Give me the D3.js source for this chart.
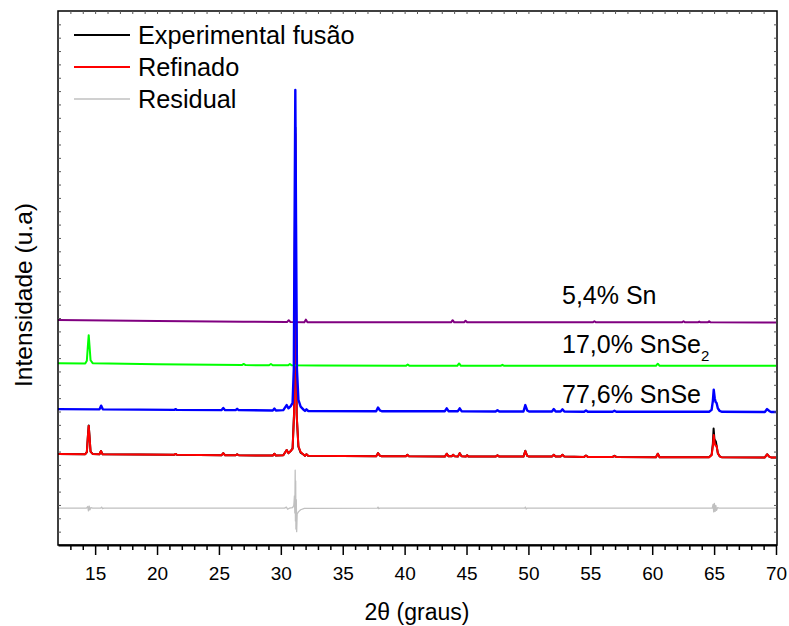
<!DOCTYPE html>
<html>
<head>
<meta charset="utf-8">
<script src="https://cdn.jsdelivr.net/npm/d3@7/dist/d3.min.js"></script>
<style>
  html, body { margin: 0; padding: 0; background: #fff; }
  svg { display: block; }
  text { font-family: "Liberation Sans", Arial, sans-serif; fill: #000; }
</style>
</head>
<body>
<svg id="chart" width="789" height="626"></svg>
<script>
// X-ray diffraction patterns, 2θ in degrees vs. intensity (arbitrary units, offset per trace)
const xTicks = [15, 20, 25, 30, 35, 40, 45, 50, 55, 60, 65, 70];

// Experimental pattern (melted sample)
const experimental = [
  [12, 170.5], [14.2, 170], [14.33, 174], [14.42, 206], [14.48, 224], [14.54, 206], [14.63, 175], [14.8, 170.5],
  [15.35, 170], [15.47, 176], [15.6, 170], [21.4, 169], [21.5, 170.5], [21.6, 169],
  [25.2, 168], [25.35, 172], [25.5, 168], [26.35, 168], [26.47, 170], [26.6, 168],
  [29.35, 167.5], [29.48, 171], [29.6, 167.5],
  [30.2, 168], [30.47, 178], [30.62, 172], [30.8, 176], [30.95, 181], [31.07, 248], [31.13, 520], [31.17, 782], [31.21, 520], [31.28, 243], [31.42, 184], [31.6, 173], [31.85, 169],
  [31.95, 167], [32.07, 170], [32.2, 167],
  [37.7, 166], [37.85, 172], [38.0, 167.5], [38.15, 166], [40.1, 166], [40.22, 169], [40.35, 166],
  [43.25, 165.5], [43.4, 171], [43.55, 166], [43.8, 166], [43.92, 169], [44.05, 166], [44.3, 165.5], [44.45, 172], [44.6, 166],
  [44.95, 165.5], [45.05, 168], [45.15, 165.5], [47.35, 165.5], [47.5, 168], [47.65, 165.5],
  [49.6, 165.5], [49.75, 176.5], [49.9, 167], [50.05, 165.5],
  [51.9, 165.5], [52.05, 169], [52.2, 165.5], [52.6, 165.5], [52.75, 169], [52.9, 165.5],
  [54.5, 165], [54.65, 167.5], [54.8, 165], [56.8, 165], [56.95, 167], [57.1, 165],
  [60.3, 164.5], [60.45, 171], [60.6, 164.5],
  [64.6, 164.5], [64.8, 169], [64.9, 190], [64.96, 218], [65.02, 200], [65.08, 195], [65.14, 194], [65.2, 186], [65.3, 172], [65.45, 166], [65.6, 164.5],
  [69.1, 164], [69.28, 170], [69.45, 165.5], [69.6, 164], [70, 164]
];

// Refined (calculated) pattern
const refined = [
  [12, 170.5], [14.2, 170], [14.33, 174], [14.42, 205], [14.48, 223], [14.54, 205], [14.63, 175], [14.8, 170.5],
  [15.35, 170], [15.47, 176], [15.6, 170], [21.4, 169], [21.5, 170.5], [21.6, 169],
  [25.2, 168], [25.35, 172], [25.5, 168], [26.35, 168], [26.47, 170], [26.6, 168],
  [29.35, 167.5], [29.48, 171], [29.6, 167.5],
  [30.2, 168], [30.47, 178], [30.62, 172], [30.8, 176], [30.95, 180], [31.07, 245], [31.13, 515], [31.17, 770], [31.21, 515], [31.28, 245], [31.42, 185], [31.6, 174], [31.85, 169],
  [31.95, 167], [32.07, 170], [32.2, 167],
  [37.7, 166], [37.85, 172], [38.0, 167.5], [38.15, 166], [40.1, 166], [40.22, 169], [40.35, 166],
  [43.25, 165.5], [43.4, 171], [43.55, 166], [43.8, 166], [43.92, 169], [44.05, 166], [44.3, 165.5], [44.45, 172], [44.6, 166],
  [44.95, 165.5], [45.05, 168], [45.15, 165.5], [47.35, 165.5], [47.5, 168], [47.65, 165.5],
  [49.6, 165.5], [49.75, 176], [49.9, 167], [50.05, 165.5],
  [51.9, 165.5], [52.05, 169], [52.2, 165.5], [52.6, 165.5], [52.75, 169], [52.9, 165.5],
  [54.5, 165], [54.65, 167.5], [54.8, 165], [56.8, 165], [56.95, 167], [57.1, 165],
  [60.3, 164.5], [60.45, 171], [60.6, 164.5],
  [64.6, 164.5], [64.8, 168], [64.9, 185], [64.97, 206], [65.05, 190], [65.12, 186], [65.2, 186], [65.3, 172], [65.45, 166], [65.6, 164.5],
  [69.1, 164], [69.28, 170], [69.45, 165.5], [69.6, 164], [70, 164]
];

// Difference between experimental and refined
const residual = [
  [12, 69], [14.3, 69], [14.4, 72], [14.46, 64], [14.52, 73], [14.58, 66], [14.66, 70], [14.8, 69],
  [15.45, 69], [15.52, 71], [15.6, 68], [15.7, 69],
  [30.3, 69], [30.45, 71], [30.55, 67], [30.7, 69], [30.95, 70], [31.05, 74], [31.1, 92], [31.13, 60],
  [31.16, 140], [31.18, 45], [31.2, 120], [31.22, 30], [31.25, 85], [31.28, 25], [31.32, 58], [31.42, 62], [31.6, 66], [31.9, 68.5],
  [37.8, 69], [37.85, 71], [37.9, 68], [38, 69], [49.7, 69], [49.76, 71], [49.82, 67.5], [49.9, 69],
  [64.85, 69], [64.92, 76], [64.97, 62], [65.02, 78], [65.08, 63], [65.14, 74], [65.2, 65], [65.28, 70], [65.4, 69], [70, 69]
];

// Calculated phase contributions
const phaseSnSe = [
  [12, 254.5], [15.35, 254], [15.48, 261], [15.62, 254], [21.4, 253], [21.5, 254.5], [21.6, 253],
  [25.2, 252.5], [25.35, 256.5], [25.5, 252.5], [26.35, 252.5], [26.47, 255], [26.6, 252.5],
  [29.35, 252], [29.48, 255.5], [29.6, 252],
  [30.2, 252.5], [30.47, 262], [30.62, 256], [30.8, 260], [30.95, 266], [31.05, 330], [31.11, 600], [31.17, 852], [31.23, 600], [31.3, 330], [31.42, 272], [31.6, 259], [31.85, 253],
  [31.95, 251], [32.07, 254], [32.2, 251],
  [37.7, 250.5], [37.85, 257.5], [38.0, 252], [38.15, 250.5],
  [43.25, 250.5], [43.4, 256], [43.55, 250.5], [44.3, 250.5], [44.45, 256], [44.6, 250.5],
  [47.35, 250], [47.5, 252.5], [47.65, 250], [49.6, 250], [49.75, 262], [49.9, 252], [50.05, 250],
  [51.9, 250], [52.05, 254.5], [52.2, 250], [52.6, 250], [52.75, 254], [52.9, 250],
  [54.5, 249.5], [54.65, 252], [54.8, 249.5], [56.8, 249.5], [56.95, 251.5], [57.1, 249.5],
  [64.6, 249.5], [64.8, 253], [64.9, 270], [64.97, 291], [65.05, 275], [65.12, 268], [65.2, 266], [65.3, 256], [65.45, 251], [65.6, 249.5],
  [69.1, 249], [69.28, 254.5], [69.45, 251], [69.6, 249], [70, 249]
];

const phaseSnSe2 = [
  [12, 340.5], [14.2, 340], [14.33, 345], [14.42, 375], [14.48, 393], [14.54, 375], [14.63, 346], [14.8, 340.5],
  [20, 338.5], [26.85, 337], [27.0, 339], [27.15, 337], [29.05, 336.5], [29.2, 339], [29.35, 336.5],
  [30.6, 336.5], [30.73, 339], [30.86, 336.5], [33, 336], [40.1, 335.5], [40.25, 338], [40.4, 335.5],
  [44.25, 335.5], [44.4, 340], [44.55, 335.5], [47.75, 335.5], [47.9, 337.5], [48.05, 335.5],
  [60.3, 335.5], [60.45, 339.5], [60.6, 335.5], [70, 335.8]
];

const phaseSn = [
  [12, 421.5], [20, 419.5], [27, 418], [30.5, 417.5], [30.64, 421], [30.78, 417.5],
  [31.9, 417.2], [32.02, 422], [32.15, 417.2], [43.75, 417], [43.88, 421], [44.01, 417],
  [44.8, 417], [44.92, 420], [45.05, 417], [55.2, 417], [55.33, 419], [55.46, 417],
  [62.4, 417], [62.53, 419], [62.66, 417], [63.7, 417], [63.8, 418.5], [63.9, 417],
  [64.5, 417], [64.6, 419], [64.7, 417], [70, 416.8]
];

const legendLabels = ["Experimental fusão", "Refinado", "Residual"];
const legendColors = ["#000000", "#ff0000", "#d0d0d0"];
const phaseLabels = ["5,4% Sn", "17,0% SnSe", "77,6% SnSe"];

const svg = d3.select("#chart");
const margin = { left: 58, right: 777, top: 11, bottom: 545 };

const x = d3.scaleLinear().domain([12, 70]).range([margin.left, 776]);
const y = d3.scaleLinear().domain([0, 1000]).range([margin.bottom, margin.top]);

const line = d3.line().x(d => x(d[0])).y(d => y(d[1]));

// Drawing order: residual at the back, SnSe phase on top
const traces = [
  { data: residual, color: "#c0c0c0", width: 1.3 },
  { data: experimental, color: "#000000", width: 2 },
  { data: refined, color: "#ff0000", width: 2 },
  { data: phaseSn, color: "#800080", width: 2 },
  { data: phaseSnSe2, color: "#00ff00", width: 2 },
  { data: phaseSnSe, color: "#0000ff", width: 2.4 }
];

svg.append("g").selectAll("path").data(traces).join("path")
  .attr("fill", "none")
  .attr("stroke", d => d.color)
  .attr("stroke-width", d => d.width)
  .attr("stroke-linejoin", "round")
  .attr("d", d => line(d.data));

// Frame
svg.append("rect")
  .attr("x", margin.left).attr("y", margin.top)
  .attr("width", margin.right - margin.left).attr("height", margin.bottom - margin.top)
  .attr("fill", "none").attr("stroke", "#000").attr("stroke-width", 1.5);

const minor = d3.range(13, 70).filter(v => v % 5 !== 0);

// Bottom axis: major ticks with labels, minor ticks
const gx = svg.append("g").attr("transform", `translate(0,${margin.bottom})`)
  .call(d3.axisBottom(x).tickValues(xTicks).tickSizeInner(10).tickSizeOuter(0).tickFormat(d3.format("d")));
gx.select(".domain").attr("stroke-width", 2);
gx.selectAll(".tick line").attr("stroke-width", 1.5);
gx.selectAll(".tick text")
  .attr("y", 35).attr("dy", null)
  .style("font-size", "19px")
  .style("font-family", "'Liberation Sans', Arial, sans-serif");

svg.append("g").attr("transform", `translate(0,${margin.bottom})`)
  .call(d3.axisBottom(x).tickValues(minor).tickSizeInner(5).tickSizeOuter(0).tickFormat(""))
  .call(g => g.select(".domain").remove())
  .selectAll(".tick line").attr("stroke-width", 1.5);

// Inward ticks on top, left and right edges
svg.append("g").attr("transform", `translate(0,${margin.top})`)
  .call(d3.axisTop(x).tickValues(d3.range(13, 70)).tickSizeInner(-3).tickSizeOuter(0).tickFormat(""))
  .call(g => g.select(".domain").remove())
  .selectAll(".tick line").attr("stroke", "#555");

const yMinor = d3.range(25, 1000, 25);
svg.append("g").attr("transform", `translate(${margin.left},0)`)
  .call(d3.axisLeft(y).tickValues(yMinor).tickSizeInner(-3).tickSizeOuter(0).tickFormat(""))
  .call(g => g.select(".domain").remove())
  .selectAll(".tick line").attr("stroke", "#555");
svg.append("g").attr("transform", `translate(${margin.right},0)`)
  .call(d3.axisRight(y).tickValues(yMinor).tickSizeInner(-3).tickSizeOuter(0).tickFormat(""))
  .call(g => g.select(".domain").remove())
  .selectAll(".tick line").attr("stroke", "#555");

// Axis titles
svg.append("text")
  .attr("x", (margin.left + 776) / 2).attr("y", 620)
  .attr("text-anchor", "middle").style("font-size", "23px")
  .text("2θ (graus)");

svg.append("text")
  .attr("transform", "translate(32,295) rotate(-90)")
  .attr("text-anchor", "middle").style("font-size", "24.5px")
  .text("Intensidade (u.a)");

// Legend
const legend = svg.append("g");
const rows = legend.selectAll("g").data(legendLabels).join("g")
  .attr("transform", (d, i) => `translate(0,${35 + i * 32})`);
rows.append("line")
  .attr("x1", 74).attr("x2", 130)
  .attr("stroke", (d, i) => legendColors[i]).attr("stroke-width", 2);
rows.append("text")
  .attr("x", 138).attr("y", 9)
  .style("font-size", "25.3px")
  .text(d => d);

// Phase fraction labels
const phaseY = [304, 353, 402.5];
phaseLabels.forEach((label, i) => {
  const t = svg.append("text").attr("x", 562).attr("y", phaseY[i]).style("font-size", "25px");
  t.append("tspan").text(label);
  if (i === 1) {
    t.append("tspan").attr("dy", 8).style("font-size", "15px").text("2");
  }
});
</script>
</body>
</html>
